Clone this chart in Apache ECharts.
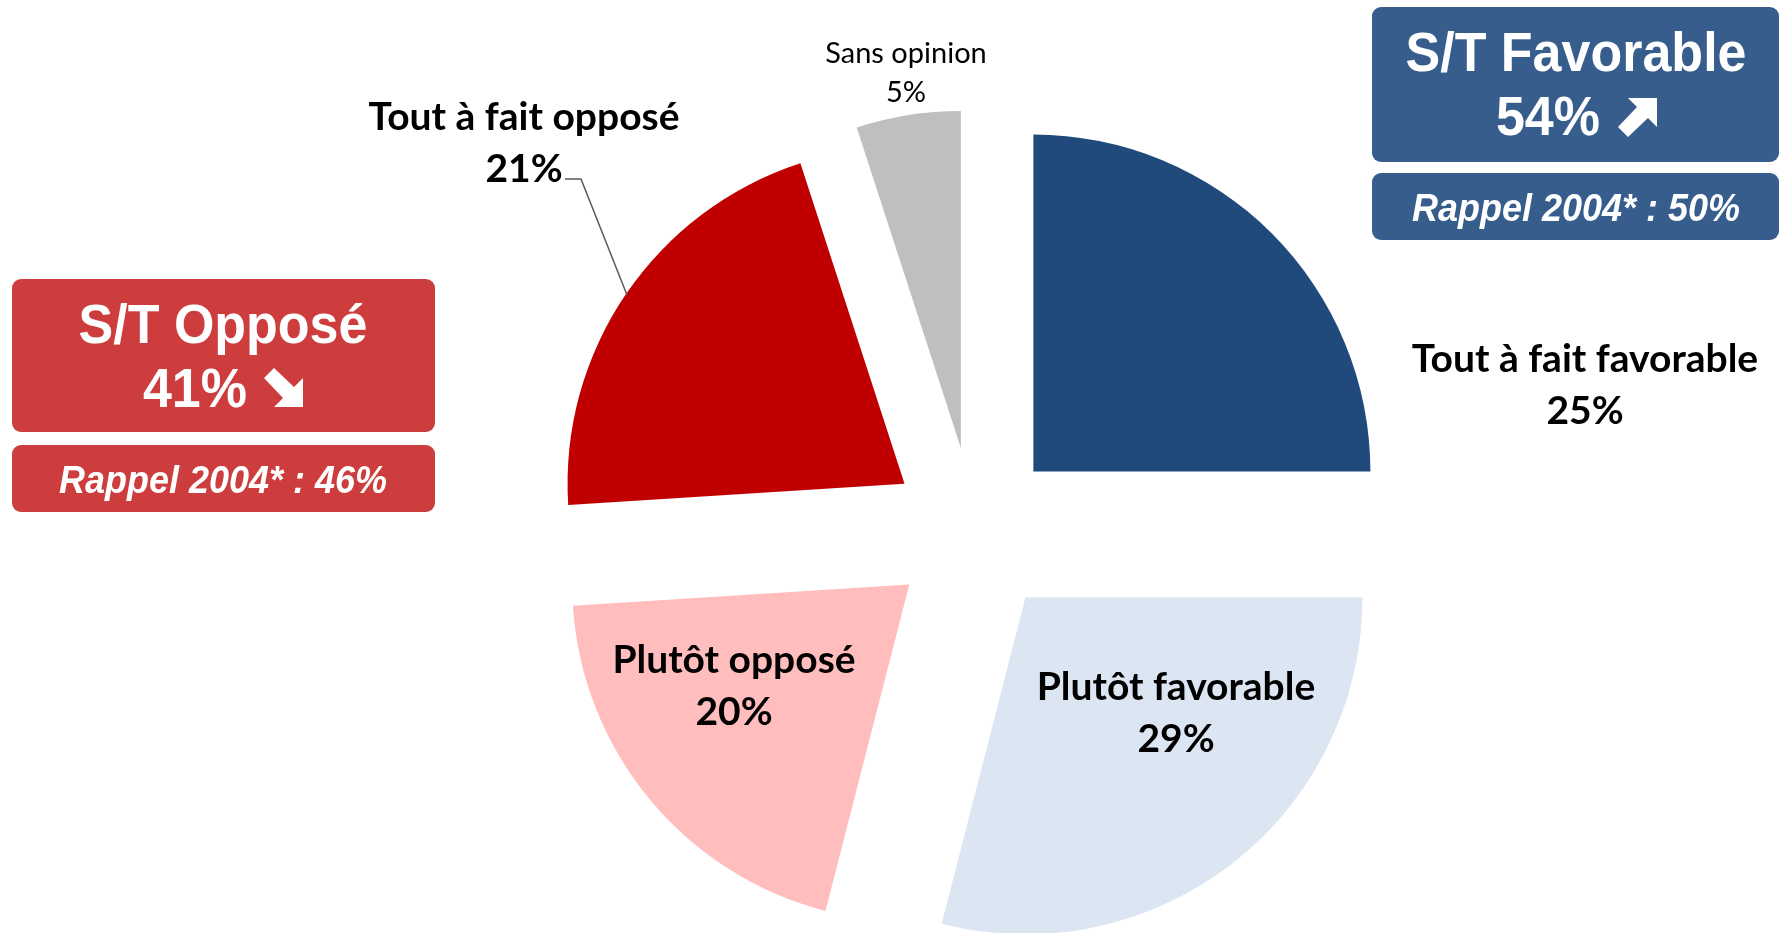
<!DOCTYPE html>
<html>
<head>
<meta charset="utf-8">
<script src="https://cdn.jsdelivr.net/npm/echarts@6/dist/echarts.min.js"></script>
<style>
html,body{margin:0;padding:0;background:#fff;}
#chart{width:1780px;height:933px;}
</style>
</head>
<body>
<div id="chart"></div>
<script>
// ---- data ----
const categories = ['Tout à fait favorable', 'Plutôt favorable', 'Plutôt opposé', 'Tout à fait opposé', 'Sans opinion'];
const values = [25, 29, 20, 21, 5];
const sliceColors = ['#214A7C', '#DCE6F2', '#FFBDBD', '#C00000', '#BFBFBF'];
const summaryTitles = ['S/T Favorable', 'S/T Opposé'];
const summaryValues = [54, 41];
const rappel2004 = [50, 46];

// ---- layout (not data) ----
const labelPos = [[1585, 385], [1176, 713], [734, 686], [524, 143], [906, 73]];
const leaderLine = [[565, 179], [581, 179], [627, 295]];

const chart = echarts.init(document.getElementById('chart'), null, {renderer: 'canvas'});

const boldLabel = {fontFamily: 'Lato', fontWeight: 'bold', fontSize: 39, lineHeight: 52, color: '#000'};
const normalLabel = {fontFamily: 'Lato', fontWeight: 'normal', fontSize: 29, lineHeight: 39, color: '#000'};

const pieData = categories.map((name, i) => ({
  name: name,
  value: values[i],
  selected: true,
  itemStyle: {color: sliceColors[i]},
  select: {itemStyle: {color: sliceColors[i], borderWidth: 0}}
}));

const labelData = categories.map((name, i) => ({
  name: name,
  value: values[i],
  label: i === 4 ? normalLabel : boldLabel,
  labelLine: {show: i === 3}
}));

function arrowPoints(up) {
  const pts = [[39, 0], [39, 29], [30, 20], [10, 39], [0, 29], [19, 9], [10, 0]];
  return up ? pts : pts.map(p => [p[0], 39 - p[1]]);
}

function box(x, y, w, h, color) {
  return {type: 'rect', x: x, y: y, shape: {width: w, height: h, r: 9}, style: {fill: color}, silent: true};
}
function txt(x, y, text, font, align) {
  return {type: 'text', x: x, y: y, scaleY: 1.06, silent: true,
    style: {text: text, fill: '#fff', font: font, align: align || 'center', verticalAlign: 'middle'}};
}
const titleFont = 'bold 52px "Liberation Sans", Arial, sans-serif';
const rappelFont = 'italic bold 36px "Liberation Sans", Arial, sans-serif';

const baseSeries = {
  type: 'pie',
  center: [974, 531],
  radius: 337,
  startAngle: 90,
  clockwise: true,
  avoidLabelOverlap: false,
  emphasis: {disabled: true}
};

const option = {
  backgroundColor: '#ffffff',
  animation: false,
  series: [
    Object.assign({}, baseSeries, {
      selectedMode: 'multiple',
      selectedOffset: 84,
      label: {show: false},
      labelLine: {show: false},
      data: pieData
    }),
    Object.assign({}, baseSeries, {
      silent: true,
      z: 5,
      itemStyle: {color: 'rgba(0,0,0,0)', borderWidth: 0},
      label: {show: true, position: 'outside', formatter: '{b}\n{c}%'},
      labelLine: {show: false, lineStyle: {color: '#595959', width: 1.5}},
      labelLayout: function (params) {
        const p = labelPos[params.dataIndex];
        const res = {x: p[0], y: p[1], align: 'center', verticalAlign: 'middle'};
        if (params.dataIndex === 3) res.labelLinePoints = leaderLine;
        return res;
      },
      data: labelData
    })
  ],
  graphic: [
    box(1372, 7, 407, 155, '#365D8C'),
    box(1372, 173, 407, 67, '#365D8C'),
    txt(1576, 56, summaryTitles[0], titleFont),
    txt(1600, 120, summaryValues[0] + '%', titleFont, 'right'),
    {type: 'polygon', x: 1618, y: 98, shape: {points: arrowPoints(true)}, style: {fill: '#fff'}, silent: true},
    txt(1576, 210, 'Rappel 2004* : ' + rappel2004[0] + '%', rappelFont),

    box(12, 279, 423, 153, '#CD3D3D'),
    box(12, 445, 423, 67, '#CD3D3D'),
    txt(223, 328, summaryTitles[1], titleFont),
    txt(247, 392, summaryValues[1] + '%', titleFont, 'right'),
    {type: 'polygon', x: 264, y: 368, shape: {points: arrowPoints(false)}, style: {fill: '#fff'}, silent: true},
    txt(223, 482, 'Rappel 2004* : ' + rappel2004[1] + '%', rappelFont)
  ]
};
chart.setOption(option);
</script>
</body>
</html>
